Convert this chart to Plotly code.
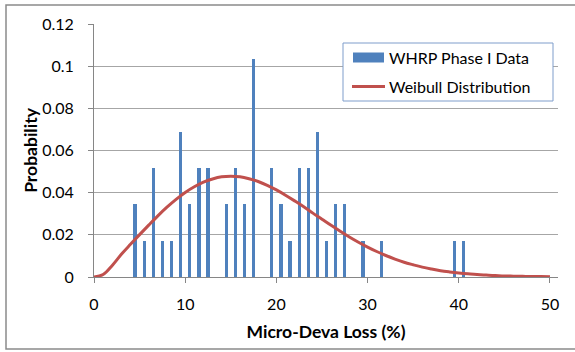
import plotly.graph_objects as go

# ---- data ----
bin_x = [4.5, 5.5, 6.5, 7.5, 8.5, 9.5, 10.5, 11.5, 12.5, 14.5, 15.5, 16.5, 17.5,
         19.5, 20.5, 21.5, 22.5, 23.5, 24.5, 25.5, 26.5, 27.5, 29.5, 31.5, 39.5, 40.5]
bin_prob = [0.0345, 0.0172, 0.0517, 0.0172, 0.0172, 0.0690, 0.0345, 0.0517, 0.0517,
            0.0345, 0.0517, 0.0345, 0.1034, 0.0517, 0.0345, 0.0172, 0.0517, 0.0517,
            0.0690, 0.0172, 0.0345, 0.0345, 0.0172, 0.0172, 0.0172, 0.0172]

curve_x = list(range(0, 51))
curve_y = [0.0, 0.0012, 0.0055, 0.0108, 0.0155, 0.0201, 0.0246, 0.0290, 0.0331, 0.0368,
           0.0401, 0.0428, 0.0450, 0.0465, 0.0475, 0.0478, 0.0475, 0.0466, 0.0453, 0.0435,
           0.0413, 0.0388, 0.0361, 0.0333, 0.0303, 0.0274, 0.0245, 0.0217, 0.0190, 0.0165,
           0.0142, 0.0121, 0.0102, 0.0085, 0.0070, 0.0058, 0.0047, 0.0038, 0.0030, 0.0024,
           0.0019, 0.0015, 0.0012, 0.0009, 0.0007, 0.0005, 0.0004, 0.0003, 0.0002, 0.0002,
           0.0001]

y_ticks = [0, 0.02, 0.04, 0.06, 0.08, 0.1, 0.12]
y_tick_text = ["0", "0.02", "0.04", "0.06", "0.08", "0.1", "0.12"]
x_ticks = [0, 10, 20, 30, 40, 50]

series_names = ["WHRP Phase I Data", "Weibull Distribution"]
x_title = "Micro-Deva Loss (%)"
y_title = "Probability"

# ---- layout geometry (pixels) ----
W, H = 575, 352
L, R, T, B = 94, 17, 24, 75
PW, PH = W - L - R, H - T - B

def px(x):
    return (x - L) / PW

def py(y):
    return (H - B - y) / PH

BLUE = "#4F81BD"
RED = "#C0504D"
FONT = "Lato"

fig = go.Figure()
fig.add_trace(go.Bar(x=bin_x, y=bin_prob, width=0.36, name=series_names[0],
                     marker=dict(color=BLUE, line=dict(width=0)), showlegend=False))
fig.add_trace(go.Scatter(x=curve_x, y=curve_y, mode="lines", name=series_names[1],
                         line=dict(color=RED, width=3, shape="spline"), showlegend=False))

fig.update_layout(
    width=W, height=H,
    margin=dict(l=L, r=R, t=T, b=B),
    paper_bgcolor="white", plot_bgcolor="white",
    font=dict(family=FONT, size=16, color="black"),
    bargap=0,
    xaxis=dict(range=[0, 50.88], tickvals=x_ticks, showgrid=False, zeroline=False,
               showline=True, linecolor="#868686", linewidth=1,
               ticks="outside", ticklen=5, tickcolor="#868686",
               ticklabelstandoff=8, tickfont=dict(size=16),
               title=dict(text="<b>" + x_title + "</b>", standoff=13,
                          font=dict(size=17.5))),
    yaxis=dict(range=[0, 0.12], tickvals=y_ticks, ticktext=y_tick_text,
               showgrid=True, gridcolor="#A6A6A6", gridwidth=1, zeroline=False,
               showline=True, linecolor="#868686", linewidth=1,
               ticks="outside", ticklen=5, tickcolor="#868686",
               ticklabelstandoff=11, tickfont=dict(size=16),
               title=dict(text="<b>" + y_title + "</b>", standoff=0,
                          font=dict(size=17.5))),
)

shapes = [
    # chart area border
    dict(type="rect", xref="paper", yref="paper", x0=px(6), x1=px(590), y0=py(349), y1=py(5),
         line=dict(color="#8A8A8A", width=1.5), fillcolor="rgba(0,0,0,0)", layer="above"),
    # legend box
    dict(type="rect", xref="paper", yref="paper", x0=px(343), x1=px(553), y0=py(101), y1=py(43),
         line=dict(color="#7F9DCB", width=1), fillcolor="white", layer="above"),
    # legend bar swatch
    dict(type="rect", xref="paper", yref="paper", x0=px(353), x1=px(384), y0=py(62.5), y1=py(52.5),
         line=dict(width=0), fillcolor=BLUE, layer="above"),
    # legend line swatch
    dict(type="line", xref="paper", yref="paper", x0=px(352), x1=px(385), y0=py(86.5), y1=py(86.5),
         line=dict(color=RED, width=3), layer="above"),
]
annotations = [
    dict(xref="paper", yref="paper", x=px(387), y=py(57), xanchor="left", yanchor="middle",
         text=series_names[0], showarrow=False, font=dict(size=16, color="black")),
    dict(xref="paper", yref="paper", x=px(387), y=py(86), xanchor="left", yanchor="middle",
         text=series_names[1], showarrow=False, font=dict(size=16, color="black")),
]
fig.update_layout(shapes=shapes, annotations=annotations)

fig.write_html("out.html")
